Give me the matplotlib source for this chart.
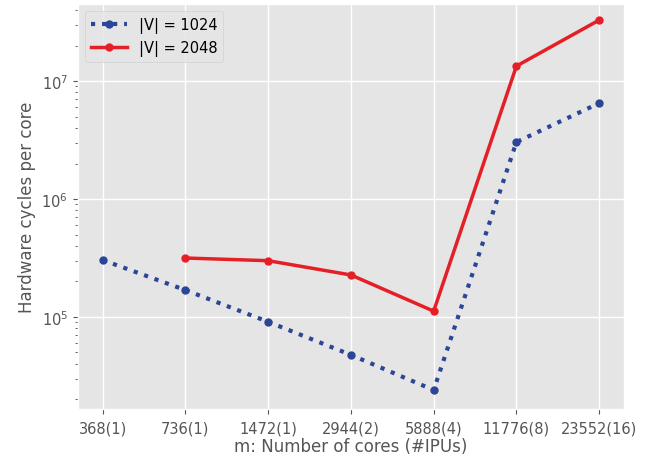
import numpy as np
import matplotlib.pyplot as plt

plt.style.use('ggplot')

cores = ['368(1)', '736(1)', '1472(1)', '2944(2)', '5888(4)', '11776(8)', '23552(16)']
cycles_1024 = [3.04e5, 1.69e5, 9.1e4, 4.77e4, 2.4e4, 3.04e6, 6.5e6]
cycles_2048 = [np.nan, 3.16e5, 3.0e5, 2.27e5, 1.12e5, 1.34e7, 3.29e7]

fig = plt.figure(figsize=(6.48, 4.56), dpi=100)
ax = fig.add_axes([0.120, 0.101, 0.843, 0.888])

x = np.arange(len(cores))
ax.plot(x, cycles_1024, linestyle=':', linewidth=3, marker='o', markersize=5,
        color='#2b4597', label='|V| = 1024')
ax.plot(x, cycles_2048, linestyle='-', linewidth=2.5, marker='o', markersize=5,
        color='#e41f26', label='|V| = 2048')

ax.set_yscale('log')
ax.set_ylim(1.66e4, 4.5e7)
ax.set_xlim(-0.3, 6.3)
ax.set_xticks(x)
ax.set_xticklabels(cores, fontsize=10.5)
ax.tick_params(axis='x', pad=5)
ax.tick_params(axis='y', labelsize=10.5)
ax.grid(True, which='major', color='white', linewidth=1)
ax.grid(False, which='minor')

ax.set_xlabel('m: Number of cores (#IPUs)', fontsize=12, color='#555555', labelpad=1)
ax.set_ylabel('Hardware cycles per core', fontsize=12, color='#555555')

ax.legend(loc='upper left', fontsize=10.5, handlelength=2.5)

fig.savefig('out.png', dpi=100)
